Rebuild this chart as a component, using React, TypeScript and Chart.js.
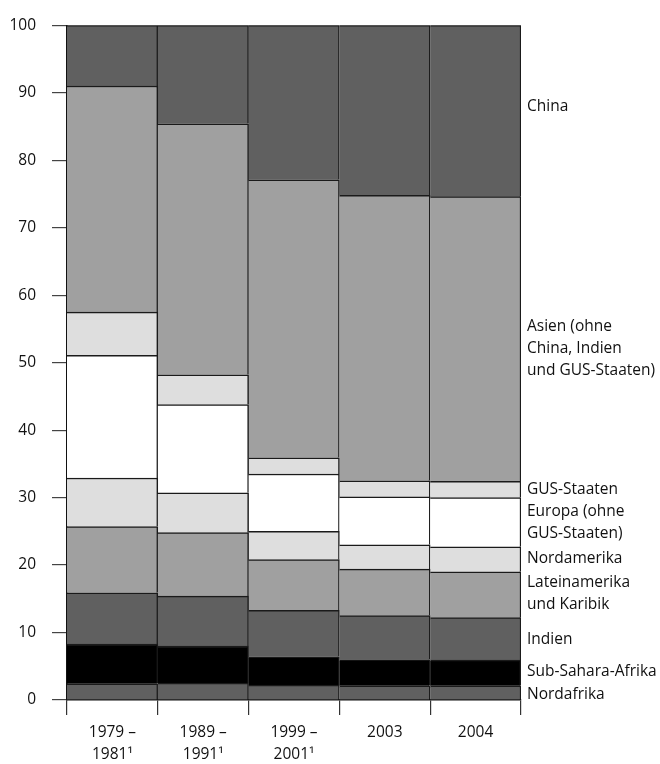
import React, { useEffect, useRef } from "react";
import { Chart, registerables } from "chart.js";

Chart.register(...registerables);

// ---- Data ----
const categories: string[][] = [
  ["1979 –", "1981¹"],
  ["1989 –", "1991¹"],
  ["1999 –", "2001¹"],
  ["2003"],
  ["2004"],
];

const nordafrika = [2.4, 2.5, 2.2, 2.1, 2.1];
const subSaharaAfrika = [5.9, 5.5, 4.2, 3.9, 3.8];
const indien = [7.6, 7.4, 6.9, 6.5, 6.3];
const lateinamerika = [9.8, 9.4, 7.5, 6.9, 6.8];
const nordamerika = [7.2, 5.9, 4.2, 3.6, 3.7];
const europa = [18.2, 13.1, 8.5, 7.1, 7.3];
const gusStaaten = [6.4, 4.4, 2.4, 2.4, 2.4];
const asien = [33.5, 37.2, 41.2, 42.3, 42.2];
const china = [9.0, 14.6, 22.9, 25.2, 25.4];

const yMin = 0;
const yMax = 100;
const yStep = 10;

// Right-hand series labels and the value on the y scale each label block is centred on
const seriesLabels: string[][] = [
  ["China"],
  ["Asien (ohne", "China, Indien", "und GUS-Staaten)"],
  ["GUS-Staaten"],
  ["Europa (ohne", "GUS-Staaten)"],
  ["Nordamerika"],
  ["Lateinamerika", "und Karibik"],
  ["Indien"],
  ["Sub-Sahara-Afrika"],
  ["Nordafrika"],
];
const seriesLabelAnchors = [87.9, 52.1, 31.15, 26.3, 20.9, 15.8, 8.96, 4.26, 0.73];

// ---- Styles ----
const FONT = '"Open Sans", "Noto Sans", sans-serif';
const FONT_SIZE = 15.5;
const TEXT = "#111111";
const DARK = "#606060";
const BLACK = "#000000";
const MID = "#a0a0a0";
const LIGHT = "#dedede";
const WHITE = "#ffffff";
const EDGE = "#1a1a1a";

const rightLabels = {
  id: "rightLabels",
  afterDraw(chart: any) {
    const { ctx, chartArea } = chart;
    const y = chart.scales.y;
    ctx.save();
    ctx.font = `${FONT_SIZE}px ${FONT}`;
    ctx.fillStyle = TEXT;
    ctx.textAlign = "left";
    ctx.textBaseline = "middle";
    const x = chartArea.right + 6;
    const lh = 22;
    seriesLabels.forEach((lines, i) => {
      const cy = y.getPixelForValue(seriesLabelAnchors[i]);
      lines.forEach((t, j) => {
        ctx.fillText(t, x, cy + (j - (lines.length - 1) / 2) * lh);
      });
    });
    ctx.restore();
  },
};

export default function App() {
  const ref = useRef<HTMLCanvasElement | null>(null);

  useEffect(() => {
    if (!ref.current) return;
    const mk = (label: string, data: number[], color: string) => ({
      label,
      data,
      backgroundColor: color,
      borderColor: EDGE,
      borderWidth: { top: 1.5, right: 1.5, left: 0, bottom: 0 },
      borderSkipped: false as any,
      barPercentage: 1,
      categoryPercentage: 1,
    });
    const chart = new Chart(ref.current, {
      type: "bar",
      data: {
        labels: categories as any,
        datasets: [
          mk("Nordafrika", nordafrika, DARK),
          mk("Sub-Sahara-Afrika", subSaharaAfrika, BLACK),
          mk("Indien", indien, DARK),
          mk("Lateinamerika und Karibik", lateinamerika, MID),
          mk("Nordamerika", nordamerika, LIGHT),
          mk("Europa (ohne GUS-Staaten)", europa, WHITE),
          mk("GUS-Staaten", gusStaaten, LIGHT),
          mk("Asien (ohne China, Indien und GUS-Staaten)", asien, MID),
          mk("China", china, DARK),
        ],
      },
      options: {
        animation: false,
        responsive: false,
        devicePixelRatio: 1,
        layout: { padding: { top: 19, right: 139, left: 0, bottom: 0 } },
        plugins: {
          legend: { display: false },
          tooltip: { enabled: false },
        },
        scales: {
          x: {
            stacked: true,
            offset: true,
            grid: {
              offset: true,
              drawOnChartArea: false,
              drawTicks: true,
              tickLength: 15,
              color: "#333333",
              lineWidth: 1.2,
            },
            border: { display: true, color: "#111111", width: 1.5 },
            ticks: {
              color: TEXT,
              font: { family: FONT, size: FONT_SIZE, lineHeight: 1.42 },
              padding: 7,
              maxRotation: 0,
              autoSkip: false,
            },
            afterFit: (s: any) => {
              s.height = 64;
            },
          },
          y: {
            stacked: true,
            min: yMin,
            max: yMax,
            grid: {
              drawOnChartArea: false,
              drawTicks: true,
              tickLength: 15,
              color: "#444444",
              lineWidth: 1.2,
            },
            border: { display: true, color: "#111111", width: 1.5 },
            ticks: {
              stepSize: yStep,
              color: TEXT,
              font: { family: FONT, size: FONT_SIZE },
              padding: 16,
            },
            afterFit: (s: any) => {
              s.width = 67;
            },
          },
        },
      },
      plugins: [rightLabels],
    });
    return () => chart.destroy();
  }, []);

  return (
    <div style={{ position: "absolute", left: 0, top: 0, width: 660, height: 764, background: "#fff" }}>
      <canvas ref={ref} width={660} height={764} style={{ width: 660, height: 764, display: "block" }} />
    </div>
  );
}
